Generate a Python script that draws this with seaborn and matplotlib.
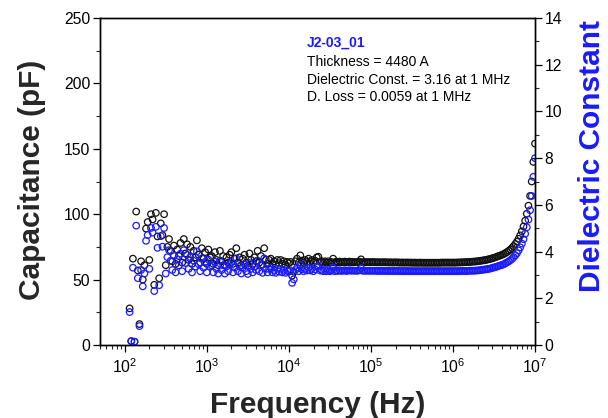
import numpy as np
import pandas as pd
import matplotlib
matplotlib.use("Agg")
import matplotlib.pyplot as plt
import seaborn as sns
from matplotlib.ticker import LogLocator, MultipleLocator, FixedLocator

# ---------------- data ----------------
# sweep frequencies (Hz), 50 points per decade from 10^2.06 to 10^7
freq_hz = np.logspace(2.06, 7.0, 248)

capacitance_pf = [
    28, 3, 66, 2.5, 102, 57, 16, 64, 50, 61, 89, 94, 65, 100, 96, 46, 101, 83, 51, 93, 84, 100, 61, 75, 81,
    72, 64, 76, 62, 73, 68, 78, 63, 81, 70, 77, 65, 75, 62, 72, 67, 80, 69, 63, 74, 66, 71, 62, 73, 67,
    68, 62, 71, 65, 61, 72, 64, 68, 61, 67, 63, 69, 71, 62, 66, 74, 63, 67, 61, 66, 69, 63, 60.5, 70, 65,
    62, 67, 64, 72, 63, 68, 61.5, 74, 65, 62, 65, 66, 62, 64, 61.5, 65, 62.5, 65, 62, 64, 61.5, 63.5, 62.5, 63.5,
    53, 56, 64, 66, 63, 68.5, 64.5, 63, 65, 63.5, 66, 63.5, 65, 63, 64.5, 67, 67.5, 63.5, 64, 63,
    64, 63, 64, 63, 63.5, 66, 63, 63.8, 63.2, 63.8, 63.2, 63.4, 63.8, 63.2, 63.4, 63.8, 63.3, 63.5, 63.3, 63.4,
    63.3, 63.8, 65.5, 63.3, 63.4,
    63.3, 63.4, 63.3, 63.3, 63.4, 63.3, 63.3, 63.2, 63.3, 63.2, 63.2, 63.3, 63.2, 63.2, 63.1, 63.2, 63.1, 63.1,
    63.2, 63.1, 63.1, 63.0, 63.1, 63.0, 63.0, 63.1, 63.0, 63.0, 63.0, 62.9, 63.0, 62.9, 62.9, 63.0, 62.9, 62.9,
    62.9, 62.9, 62.9, 62.9, 62.9, 62.9, 62.9, 62.9, 62.9, 62.9, 63.0, 63.0, 63.0, 63.0, 63.0, 63.0, 63.0,
    63.0, 63.0, 63.0, 63.1, 63.1, 63.2, 63.2, 63.3, 63.3, 63.4, 63.5, 63.6, 63.7, 63.8, 63.9, 64.0, 64.2,
    64.4, 64.6, 64.8, 65.0, 65.3, 65.6, 65.9, 66.3, 66.7, 67.1, 67.6, 68.1, 68.5, 69.0, 69.6, 70.3, 71.1,
    72.0, 73.0, 74.2, 75.6, 77.2, 79.0, 81.2, 83.8, 86.9, 90.6, 95.0, 100.3, 106.5, 114.0, 125.0, 140.0, 154.0,
]

dielectric_const = [
    1.41, 0.16, 3.31, 0.14, 5.11, 2.86, 0.81, 3.21, 2.51, 3.06, 4.46, 4.71, 3.26, 5.01, 4.81, 2.31, 5.06, 4.16,
    2.56, 4.66, 4.21, 5.01, 3.06, 3.76, 4.06,
    3.61, 3.21, 3.81, 3.11, 3.66, 3.41, 3.91, 3.16, 4.06, 3.51, 3.86, 3.26, 3.76, 3.11, 3.61, 3.36, 4.01, 3.46,
    3.16, 3.71, 3.31, 3.56, 3.11, 3.66, 3.36,
    3.41, 3.11, 3.56, 3.26, 3.06, 3.61, 3.21, 3.41, 3.06, 3.36, 3.16, 3.46, 3.56, 3.11, 3.31, 3.71, 3.16, 3.36,
    3.06, 3.31, 3.46, 3.16, 3.04, 3.51, 3.26, 3.11, 3.36, 3.21, 3.61, 3.16, 3.41, 3.09, 3.71, 3.26, 3.11, 3.26,
    3.31, 3.11, 3.21, 3.09, 3.26, 3.14, 3.26, 3.11, 3.21, 3.09, 3.19, 3.14, 3.19,
    2.66, 2.81, 3.21, 3.31, 3.16, 3.44, 3.24, 3.16, 3.26, 3.19, 3.31, 3.19, 3.26, 3.16, 3.24, 3.36, 3.39, 3.19,
    3.21, 3.16, 3.21, 3.16, 3.21, 3.16, 3.19, 3.31, 3.16, 3.20, 3.17, 3.20, 3.17, 3.18, 3.20, 3.17, 3.18, 3.20,
    3.18, 3.19, 3.18, 3.18, 3.18, 3.20, 3.29, 3.18, 3.18,
    3.18, 3.18, 3.18, 3.18, 3.18, 3.18, 3.18, 3.17, 3.18, 3.17, 3.17, 3.18, 3.17, 3.17, 3.17, 3.17, 3.17, 3.17,
    3.17, 3.17, 3.17, 3.16, 3.17, 3.16, 3.16, 3.17, 3.16, 3.16, 3.16, 3.16, 3.16, 3.16, 3.16, 3.16, 3.16, 3.16,
    3.16, 3.16, 3.16, 3.16, 3.16, 3.16, 3.16, 3.16, 3.16, 3.16, 3.16, 3.16, 3.16, 3.16, 3.16, 3.16, 3.16,
    3.16, 3.16, 3.16, 3.16, 3.16, 3.17, 3.17, 3.17, 3.17, 3.17, 3.18, 3.18, 3.18, 3.18, 3.19, 3.19, 3.20,
    3.21, 3.22, 3.23, 3.24, 3.25, 3.26, 3.28, 3.30, 3.32, 3.34, 3.36, 3.39, 3.41, 3.43, 3.46, 3.50, 3.54,
    3.58, 3.63, 3.69, 3.76, 3.84, 3.93, 4.05, 4.18, 4.34, 4.53, 4.76, 5.04, 5.37, 5.77, 6.38, 7.20, 8.00,
]

x_ticks = [1e2, 1e3, 1e4, 1e5, 1e6, 1e7]
x_tick_labels = [r"$10^{2}$", r"$10^{3}$", r"$10^{4}$", r"$10^{5}$", r"$10^{6}$", r"$10^{7}$"]
annot_title = "J2-03_01"
annot_lines = ["Thickness = 4480 A", "Dielectric Const. = 3.16 at 1 MHz", "D. Loss = 0.0059 at 1 MHz"]

df = pd.DataFrame({"freq": freq_hz, "cap": capacitance_pf, "k": dielectric_const})

# ---------------- style ----------------
sns.set_theme(style="ticks")
plt.rcParams["font.family"] = ["Liberation Sans", "DejaVu Sans"]
plt.rcParams["mathtext.fontset"] = "custom"
plt.rcParams["mathtext.rm"] = "Liberation Sans"
plt.rcParams["mathtext.it"] = "Liberation Sans"

BLUE = "#1a1aff"
fig = plt.figure(figsize=(6.08, 4.18), dpi=100)
ax = fig.add_axes([100 / 608, 1 - 345 / 418, 435 / 608, 327 / 418])
ax2 = ax.twinx()

sns.scatterplot(data=df, x="freq", y="cap", ax=ax, marker="o", s=22,
                facecolor="none", edgecolor="#111111", linewidth=0.9, legend=False)
sns.scatterplot(data=df, x="freq", y="k", ax=ax2, marker="o", s=22,
                facecolor="none", edgecolor=BLUE, linewidth=0.9, legend=False)

ax.set_xscale("log")
ax.set_xlim(50, 1e7)
ax.set_ylim(0, 250)
ax2.set_ylim(0, 14)

ax.xaxis.set_major_locator(FixedLocator(x_ticks))
ax.set_xticklabels(x_tick_labels)
ax.xaxis.set_minor_locator(LogLocator(base=10, subs=np.arange(2, 10)))
ax.yaxis.set_major_locator(MultipleLocator(50))
ax.yaxis.set_minor_locator(MultipleLocator(25))
ax2.yaxis.set_major_locator(MultipleLocator(2))
ax2.yaxis.set_minor_locator(MultipleLocator(1))

for a in (ax, ax2):
    a.tick_params(which="major", direction="out", length=5, width=0.9, labelsize=11.3, colors="black", pad=2)
    a.tick_params(which="minor", direction="out", length=3, width=0.8)
    for sp in a.spines.values():
        sp.set_visible(True)
        sp.set_linewidth(1.0)
        sp.set_color("black")
ax.tick_params(axis="x", which="major", pad=4)

ax.set_xlabel("Frequency (Hz)", fontsize=21.5, fontweight="bold", labelpad=11)
ax.set_ylabel("Capacitance (pF)", fontsize=21.5, fontweight="bold")
ax.yaxis.set_label_coords(-0.124, 0.505)
ax2.set_ylabel("Dielectric Constant", fontsize=21.5, fontweight="bold", color=BLUE)
ax2.yaxis.set_label_coords(1.099, 0.577)

ax.text(0.475, 0.9235, annot_title, transform=ax.transAxes, fontsize=10,
        fontweight="bold", color=BLUE, va="center", ha="left")
for i, line in enumerate(annot_lines):
    ax.text(0.475, 0.866 - i * 0.0545, line, transform=ax.transAxes, fontsize=10,
            color="black", va="center", ha="left")

fig.savefig("out.png", dpi=100)
